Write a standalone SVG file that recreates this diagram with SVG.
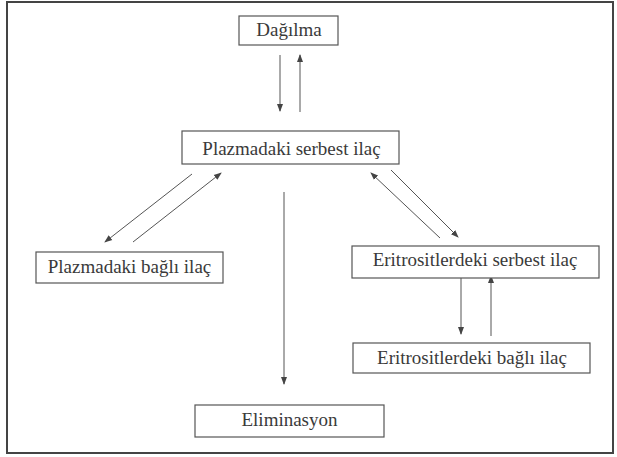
<svg xmlns="http://www.w3.org/2000/svg" width="617" height="457" viewBox="0 0 617 457">
<style>
.box{fill:#fff;stroke:#555;stroke-width:1.2}
.t{font-family:"Liberation Serif","Times New Roman",serif;font-size:19px;fill:#3a3a3a;text-anchor:middle}
.c{stroke:#555;stroke-width:1;fill:none;marker-end:url(#ah)}
</style>
<defs>
<marker id="ah" markerWidth="8" markerHeight="8" refX="7" refY="4" orient="auto" markerUnits="userSpaceOnUse">
<path d="M0,1 L8,4 L0,7 Z" fill="#444"/>
</marker>
</defs>
<rect x="0" y="0" width="617" height="457" fill="#fff"/>
<rect x="7" y="2" width="606" height="451" fill="none" stroke="#444" stroke-width="2"/>
<g id="connectors">
<line class="c" x1="280" y1="55" x2="280" y2="111"/>
<line class="c" x1="300" y1="112" x2="300" y2="55"/>
<line class="c" x1="192" y1="174" x2="105" y2="242"/>
<line class="c" x1="133" y1="242" x2="221" y2="173"/>
<line class="c" x1="284" y1="192" x2="284" y2="384"/>
<line class="c" x1="440" y1="238" x2="371" y2="173"/>
<line class="c" x1="391" y1="170" x2="458" y2="237"/>
<line class="c" x1="461" y1="278" x2="461" y2="334"/>
<line class="c" x1="491" y1="336" x2="491" y2="276"/>
</g>
<g id="dagilma">
<rect class="box" x="239" y="16" width="99" height="29"/>
<text class="t" x="289" y="36">Dağılma</text>
</g>
<g id="plazma-serbest">
<rect class="box" x="182" y="131" width="217" height="33"/>
<text class="t" x="291.5" y="155">Plazmadaki serbest ilaç</text>
</g>
<g id="plazma-bagli">
<rect class="box" x="36" y="252" width="187" height="31"/>
<text class="t" x="129.5" y="273">Plazmadaki bağlı ilaç</text>
</g>
<g id="eritrosit-serbest">
<rect class="box" x="352" y="246" width="247" height="32"/>
<text class="t" x="475" y="266">Eritrositlerdeki serbest ilaç</text>
</g>
<g id="eritrosit-bagli">
<rect class="box" x="353" y="343" width="237" height="30"/>
<text class="t" x="472" y="364">Eritrositlerdeki bağlı ilaç</text>
</g>
<g id="eliminasyon">
<rect class="box" x="195" y="405" width="189" height="32"/>
<text class="t" x="289.5" y="426">Eliminasyon</text>
</g>
</svg>
